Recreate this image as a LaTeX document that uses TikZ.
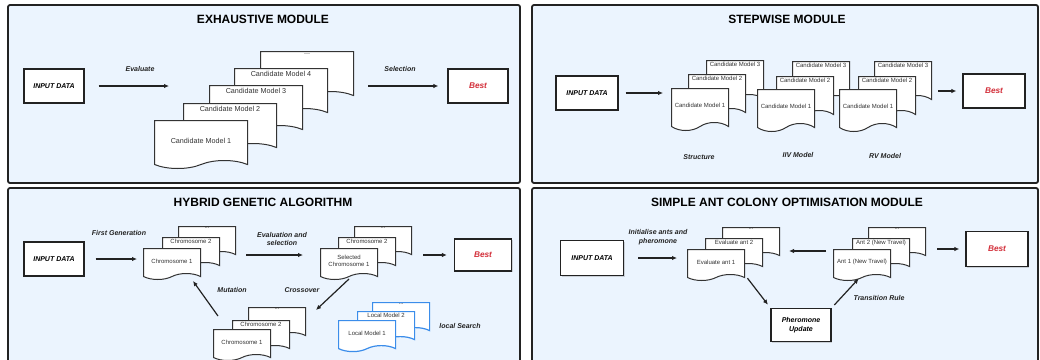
\documentclass[tikz,border=0pt]{standalone}
\usepackage{fontspec}
\setmainfont{Liberation Sans}
\usetikzlibrary{shapes.symbols,shadows,arrows.meta,positioning}

\definecolor{panelfill}{HTML}{EBF4FE}
\definecolor{darkline}{HTML}{222222}
\definecolor{docline}{HTML}{333333}
\definecolor{bestred}{HTML}{D32F3A}
\definecolor{localblue}{HTML}{3B8DEA}

\tikzset{
  panel/.style={draw=darkline, line width=1.8pt, rounded corners=2pt, fill=panelfill},
  modtitle/.style={font=\bfseries\fontsize{12}{14}\selectfont},
  datbox/.style={draw=darkline, line width=1.3pt, fill=white, minimum width=60pt, minimum height=34pt,
    inner sep=1pt, align=center, font=\bfseries\itshape\fontsize{7}{8.5}\selectfont,
    drop shadow={shadow xshift=1pt, shadow yshift=-1pt, opacity=.3}},
  bestbox/.style={datbox, text=bestred, font=\bfseries\itshape\fontsize{8.3}{10}\selectfont},
  lbl/.style={font=\bfseries\itshape\fontsize{7}{8.5}\selectfont, text=darkline, align=center},
  doc/.style={shape=tape, tape bend top=none, tape bend bottom=in and out, tape bend height=8pt,
    draw=docline, line width=1pt, fill=white, inner sep=0pt, anchor=north west, text=docline, align=center},
  bigdoc/.style={doc, minimum width=93pt, minimum height=48pt, font=\fontsize{7.2}{8.5}\selectfont},
  middoc/.style={doc, minimum width=57pt, minimum height=42pt, font=\fontsize{6}{7}\selectfont},
  smalldoc/.style={doc, minimum width=57pt, minimum height=31pt, tape bend height=6pt, font=\fontsize{6}{7}\selectfont},
  localdoc/.style={smalldoc, draw=localblue, line width=1.2pt},
  bigtxt/.style={anchor=north, inner sep=3pt, text=docline, font=\fontsize{7.2}{8.5}\selectfont},
  smalltxt/.style={anchor=north, inner sep=2pt, text=docline, font=\fontsize{6}{7}\selectfont},
  arr/.style={draw=darkline, line width=1.2pt, -{Latex[length=5pt,width=4.5pt]}},
}

\begin{document}
\begin{tikzpicture}[x=1pt, y=-1pt]
\useasboundingbox (0,0) rectangle (1040,359);

% panels
\draw[panel] (8,5) rectangle (520,183);
\draw[panel] (532,5) rectangle (1038,183);
\draw[panel] (8,188) rectangle (520,372);
\draw[panel] (532,188) rectangle (1038,372);

% exhaustive module
\node[modtitle] (t1) at (263,19) {EXHAUSTIVE MODULE};
\node[datbox] (in1) at (54,86) {INPUT DATA};
\node[bigdoc, label={[bigtxt]north:...}] (cm5) at (260,51) {};
\node[bigdoc, label={[bigtxt]north:Candidate Model 4}] (cm4) at (234,68) {};
\node[bigdoc, label={[bigtxt]north:Candidate Model 3}] (cm3) at (209,85) {};
\node[bigdoc, label={[bigtxt]north:Candidate Model 2}] (cm2) at (183,103) {};
\node[bigdoc] (cm1) at (154,120) {Candidate Model 1};
\node[bestbox] (best1) at (478,86) {Best};
\node[lbl] (eval1) at (140,69) {Evaluate};
\node[lbl] (sel1) at (400,69) {Selection};
\draw[arr, shorten <=14pt, shorten >=40pt] (in1) -- (in1 -| cm3.west);
\draw[arr, shorten <=14pt, shorten >=9pt] (best1 -| cm5.east) -- (best1);

% stepwise module
\node[modtitle] (t2) at (787,19) {STEPWISE MODULE};
\node[datbox, minimum width=62pt] (in2) at (587,93) {INPUT DATA};
\node[middoc, label={[smalltxt]north:Candidate Model 3}] (s1c) at (706,60) {};
\node[middoc, label={[smalltxt]north:Candidate Model 2}] (s1b) at (688,74) {};
\node[middoc] (s1a) at (671,88) {Candidate Model 1};
\node[middoc, label={[smalltxt]north:Candidate Model 3}] (s2c) at (792,61) {};
\node[middoc, label={[smalltxt]north:Candidate Model 2}] (s2b) at (776,76) {};
\node[middoc] (s2a) at (757,89) {Candidate Model 1};
\node[middoc, label={[smalltxt]north:Candidate Model 3}] (s3c) at (874,61) {};
\node[middoc, label={[smalltxt]north:Candidate Model 2}] (s3b) at (858,76) {};
\node[middoc] (s3a) at (839,89) {Candidate Model 1};
\node[bestbox, minimum width=62pt] (best2) at (994,91) {Best};
\node[lbl] (struct) at (699,157) {Structure};
\node[lbl] (iiv) at (798,155) {IIV Model};
\node[lbl] (rv) at (885,156) {RV Model};
\draw[arr, shorten <=7pt, shorten >=8pt] (in2) -- (in2 -| s1a.west);
\draw[arr, shorten <=6pt, shorten >=6pt] (best2 -| s3c.east) -- (best2);

% hybrid genetic algorithm
\node[modtitle] (t3) at (263,202) {HYBRID GENETIC ALGORITHM};
\node[datbox] (in3) at (54,259) {INPUT DATA};
\node[smalldoc, label={[smalltxt]north:...}] (ga3) at (178,226) {};
\node[smalldoc, label={[smalltxt]north:Chromosome 2}] (ga2) at (162,237) {};
\node[smalldoc] (ga1) at (143,248) {Chromosome 1};
\node[smalldoc, label={[smalltxt]north:...}] (gb3) at (354,226) {};
\node[smalldoc, label={[smalltxt]north:Chromosome 2}] (gb2) at (338,237) {};
\node[smalldoc] (gb1) at (320,248) {Selected\\Chromosome 1};
\node[bestbox, minimum width=57pt, minimum height=32pt] (best3) at (483,255) {Best};
\node[smalldoc, label={[smalltxt]north:...}] (gc3) at (248,307) {};
\node[smalldoc, label={[smalltxt]north:Chromosome 2}] (gc2) at (232,320) {};
\node[smalldoc] (gc1) at (213,329) {Chromosome 1};
\node[localdoc, label={[smalltxt]north:...}] (gd3) at (372,302) {};
\node[localdoc, label={[smalltxt]north:Local Model 2}] (gd2) at (357,311) {};
\node[localdoc] (gd1) at (338,320) {Local Model 1};
\node[lbl] (firstgen) at (119,233) {First Generation};
\node[lbl] (evalsel) at (282,239) {Evaluation and\\selection};
\node[lbl] (mut) at (232,290) {Mutation};
\node[lbl] (cross) at (302,290) {Crossover};
\node[lbl] (local) at (460,326) {local Search};
\draw[arr, shorten <=11pt, shorten >=6pt] (in3) -- (in3 -| ga1.west);
\draw[arr, shorten <=45pt, shorten >=17pt] ([yshift=6pt]ga1.east) -- ([yshift=6pt]gb1.west);
\draw[arr, shorten <=11pt, shorten >=7pt] (best3 -| gb3.east) -- (best3);
\draw[arr] ([yshift=-5pt]gb1.south) -- ([xshift=10pt,yshift=-3pt]gc3.north east);
\draw[arr] ([xshift=5pt,yshift=13pt]gc1.north west) -- ([xshift=-8pt,yshift=-7pt]ga1.south east);

% simple ant colony optimisation module
\node[modtitle] (t4) at (787,202) {SIMPLE ANT COLONY OPTIMISATION MODULE};
\node[datbox, minimum width=63pt, minimum height=35pt] (in4) at (592,258) {INPUT DATA};
\node[smalldoc, label={[smalltxt]north:...}] (ea3) at (722,227) {};
\node[smalldoc, label={[smalltxt]north:Evaluate ant 2}] (ea2) at (705,238) {};
\node[smalldoc] (ea1) at (687,249) {Evaluate ant 1};
\node[smalldoc, label={[smalltxt]north:...}] (na3) at (868,227) {};
\node[smalldoc, label={[smalltxt]north:Ant 2 (New Travel)}] (na2) at (852,238) {};
\node[smalldoc] (na1) at (833,249) {Ant 1 (New Travel)};
\node[bestbox, minimum width=62pt, minimum height=35pt] (best4) at (997,249) {Best};
\node[datbox, minimum height=33pt] (pher) at (801,325) {Pheromone\\Update};
\node[lbl] (init) at (658,237) {Initialise ants and\\pheromone};
\node[lbl] (trans) at (879,298) {Transition Rule};
\draw[arr, shorten <=14pt, shorten >=10pt] (in4) -- (in4 -| ea1.west);
\draw[arr, shorten <=7pt, shorten >=9pt] (na1.west |- na2) -- (ea3.east |- ea2);
\draw[arr, shorten <=11pt, shorten >=6pt] (best4 -| na3.east) -- (best4);
\draw[arr, shorten <=4pt, shorten >=4pt] (ea1.south east) -- (pher.north west);
\draw[arr, shorten <=4pt, shorten >=5pt] (pher.north east) -- (na1.south);
\end{tikzpicture}
\end{document}
